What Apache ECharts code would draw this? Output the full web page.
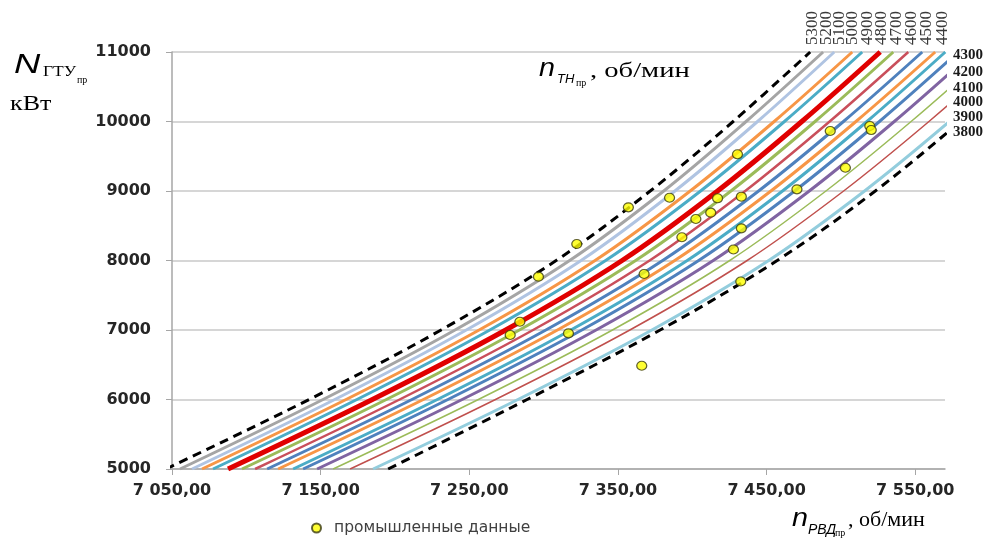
<!DOCTYPE html>
<html><head><meta charset="utf-8">
<script src="https://cdn.jsdelivr.net/npm/echarts@6.0.0/dist/echarts.min.js"></script>
<style>html,body{margin:0;padding:0;background:#fff}#c{width:989px;height:545px}</style>
</head><body><div id="c"></div>
<script>
// Power levels (y, кВт) at which each curve's n_РВД value was read
const powerLevels = [5000, 6000, 7000, 8000, 9000, 10000, 11000];
// n_РВД (x) values of each curve at those power levels
const upperBoundary = [7045.9, 7142.2, 7231.0, 7308.4, 7371.7, 7427.5, 7479.3];
const curveA  = [7055.4, 7151.6, 7240.4, 7317.5, 7380.8, 7436.2, 7488.0];
const curveB  = [7063.5, 7159.5, 7248.0, 7325.2, 7388.3, 7443.9, 7495.5];
const curveC  = [7070.2, 7167.1, 7256.6, 7334.6, 7398.6, 7455.1, 7507.6];
const curveD  = [7077.6, 7174.4, 7263.8, 7341.7, 7405.6, 7462.0, 7514.3];
const curveE  = [7087.7, 7184.8, 7274.5, 7352.8, 7417.0, 7473.7, 7526.4];
const curveF  = [7097.1, 7194.2, 7283.7, 7361.9, 7426.0, 7482.6, 7535.2];
const curveG  = [7105.9, 7203.1, 7292.9, 7371.3, 7435.6, 7492.4, 7545.3];
const curveH  = [7114.0, 7211.4, 7301.5, 7380.1, 7444.6, 7501.7, 7554.7];
const curveI  = [7121.4, 7219.1, 7309.3, 7388.2, 7452.9, 7510.1, 7563.4];
const curveJ  = [7131.5, 7228.5, 7318.3, 7396.6, 7460.7, 7517.5, 7570.2];
const curveK  = [7138.2, 7235.6, 7325.7, 7404.3, 7468.8, 7525.9, 7578.9];
const curveL  = [7147.6, 7245.2, 7335.3, 7414.1, 7478.7, 7535.9, 7589.0];
const curveM  = [7158.4, 7256.1, 7346.3, 7425.2, 7489.9, 7547.2, 7600.4];
const curveN  = [7169.8, 7267.6, 7358.0, 7436.9, 7501.8, 7559.2, 7612.6];
const curveO  = [7185.3, 7282.7, 7372.8, 7451.4, 7515.9, 7573.0, 7626.0];
const lowerBoundary = [7195.4, 7288.9, 7378.4, 7457.1, 7523.1, 7580.3, 7634.1];

// industrial data points
const plantRpm = [7277.5, 7284.0, 7296.5, 7316.7, 7322.3, 7357.0, 7366.0, 7367.6, 7384.7, 7393.0, 7402.4, 7412.4, 7417.0, 7430.4, 7427.7, 7433.0, 7433.0, 7432.6, 7470.4, 7492.8, 7503.0, 7519.4, 7520.4];
const plantPower = [6928, 7119, 7767, 6952, 8237, 8765, 6486, 7806, 8903, 8334, 8597, 8688, 8895, 9528, 8158, 8918, 8463, 7698, 9024, 9863, 9335, 9935, 9877];

const xTickValues = [7050, 7150, 7250, 7350, 7450, 7550];
const topCurveLabels = ['5300', '5200', '5100', '5000', '4900', '4800', '4700', '4600', '4500', '4400'];
const rightCurveLabels = ['4300', '4200', '4100', '4000', '3900', '3800'];
const legendName = 'промышленные данные';

// styling (kept separate from data)
const curveStyles = [
  {d: upperBoundary, color: '#000000', width: 3, type: [9, 6]},
  {d: curveA, color: '#A5A5A5', width: 3},
  {d: curveB, color: '#B0C4E2', width: 3},
  {d: curveC, color: '#F79646', width: 3},
  {d: curveD, color: '#4BACC6', width: 3},
  {d: curveE, color: '#E00000', width: 5},
  {d: curveF, color: '#9BBB59', width: 3},
  {d: curveG, color: '#C94F5B', width: 2.5},
  {d: curveH, color: '#4F81BD', width: 3},
  {d: curveI, color: '#F79646', width: 3},
  {d: curveJ, color: '#4BACC6', width: 3},
  {d: curveK, color: '#4F81BD', width: 3},
  {d: curveL, color: '#8064A2', width: 3},
  {d: curveM, color: '#9BBB59', width: 1.5},
  {d: curveN, color: '#C0504D', width: 1.5},
  {d: curveO, color: '#93CDDD', width: 3},
  {d: lowerBoundary, color: '#000000', width: 3, type: [9, 6]}
];
const topLabelX = [813, 827, 840, 853, 868, 882, 897, 912, 927, 943];
const rightLabelY = [55, 72, 88, 102, 117, 132];

const chart = echarts.init(document.getElementById('c'), null, {renderer: 'canvas'});

const series = curveStyles.map((c, k) => ({
  type: 'line',
  name: 'c' + k,
  data: powerLevels.map((p, i) => [c.d[i], p]),
  smooth: 0.35,
  showSymbol: false,
  symbol: 'none',
  clip: true,
  silent: true,
  lineStyle: {color: c.color, width: c.width, type: c.type || 'solid', cap: 'butt'},
  z: 2
}));
series.push({
  type: 'scatter',
  name: legendName,
  data: plantRpm.map((x, i) => [x, plantPower[i]]),
  symbol: 'circle',
  symbolSize: [10, 9],
  itemStyle: {color: '#FFFF00', borderColor: '#3A3A10', borderWidth: 1.2},
  z: 5
});

const serif = '"Liberation Serif", "Times New Roman", serif';
const sans = '"Liberation Sans", Arial, sans-serif';
const graphics = [];
// y-axis title
graphics.push({type: 'text', x: 14, y: 65, scaleX: 1.3, style: {text: 'N', font: 'italic 28px ' + sans, fill: '#000', align: 'left', verticalAlign: 'middle'}});
graphics.push({type: 'text', x: 43, y: 72, scaleX: 1.25, style: {text: 'ГТУ', font: '14px ' + serif, fill: '#000', align: 'left', verticalAlign: 'middle'}});
graphics.push({type: 'text', x: 77, y: 80, style: {text: 'пр', font: '10px ' + serif, fill: '#000', align: 'left', verticalAlign: 'middle'}});
graphics.push({type: 'text', x: 10, y: 105, scaleX: 1.3, style: {text: 'кВт', font: '20px ' + serif, fill: '#000', align: 'left', verticalAlign: 'middle'}});
// top title n_ТН
graphics.push({type: 'text', x: 539, y: 69, scaleX: 1.15, style: {text: 'n', font: 'italic 25px ' + sans, fill: '#000', align: 'left', verticalAlign: 'middle'}});
graphics.push({type: 'text', x: 557, y: 79, style: {text: 'ТН', font: 'italic 13px ' + sans, fill: '#000', align: 'left', verticalAlign: 'middle'}});
graphics.push({type: 'text', x: 576, y: 83, style: {text: 'пр', font: '10px ' + serif, fill: '#000', align: 'left', verticalAlign: 'middle'}});
graphics.push({type: 'text', x: 590, y: 71, scaleX: 1.3, style: {text: ', об/мин', font: '22px ' + serif, fill: '#000', align: 'left', verticalAlign: 'middle'}});
// bottom title n_РВД
graphics.push({type: 'text', x: 792, y: 519, scaleX: 1.15, style: {text: 'n', font: 'italic 25px ' + sans, fill: '#000', align: 'left', verticalAlign: 'middle'}});
graphics.push({type: 'text', x: 808, y: 530, style: {text: 'РВД', font: 'italic 14px ' + sans, fill: '#000', align: 'left', verticalAlign: 'middle'}});
graphics.push({type: 'text', x: 835, y: 533, style: {text: 'пр', font: '10px ' + serif, fill: '#000', align: 'left', verticalAlign: 'middle'}});
graphics.push({type: 'text', x: 848, y: 520, style: {text: ', об/мин', font: '22px ' + serif, fill: '#000', align: 'left', verticalAlign: 'middle'}});
// curve labels
topCurveLabels.forEach((t, i) => graphics.push({type: 'text', x: topLabelX[i], y: 45, rotation: Math.PI / 2,
  style: {text: t, font: '17px ' + serif, fill: '#3a3a3a', align: 'left', verticalAlign: 'middle'}}));
rightCurveLabels.forEach((t, i) => graphics.push({type: 'text', x: 953, y: rightLabelY[i],
  style: {text: t, font: 'bold 15px ' + serif, fill: '#1a1a1a', align: 'left', verticalAlign: 'middle'}}));

const axisFont = {fontFamily: '"DejaVu Sans", sans-serif', fontWeight: 'bold', fontSize: 16, color: '#262626'};

chart.setOption({
  animation: false,
  backgroundColor: '#ffffff',
  grid: {left: 172, right: 44, top: 52, bottom: 76, containLabel: false},
  legend: {
    data: [{name: legendName, icon: 'circle'}],
    left: 306, top: 515, itemWidth: 11, itemHeight: 9,
    textStyle: {fontFamily: '"DejaVu Sans", sans-serif', fontSize: 15.5, color: '#404040', padding: [0, 0, 0, 7]}
  },
  xAxis: {
    type: 'value', min: 7050, max: 7570,
    axisLine: {show: true, lineStyle: {color: '#A6A6A6', width: 1.5}},
    axisTick: {show: true, customValues: xTickValues, length: 6, lineStyle: {color: '#A6A6A6'}},
    axisLabel: Object.assign({customValues: xTickValues, margin: 14, formatter: v => {
      const s = String(Math.round(v));
      return s.slice(0, -3) + ' ' + s.slice(-3) + ',00';
    }}, axisFont),
    splitLine: {show: false}
  },
  yAxis: {
    type: 'value', min: 5000, max: 11000, interval: 1000,
    axisLine: {show: true, lineStyle: {color: '#A6A6A6', width: 1.5}},
    axisTick: {show: true, length: 6, lineStyle: {color: '#A6A6A6'}},
    axisLabel: Object.assign({margin: 21, formatter: v => String(Math.round(v))}, axisFont),
    splitLine: {show: true, lineStyle: {color: '#C8C8C8', width: 1.5}}
  },
  graphic: graphics,
  series: series
});
</script></body></html>
